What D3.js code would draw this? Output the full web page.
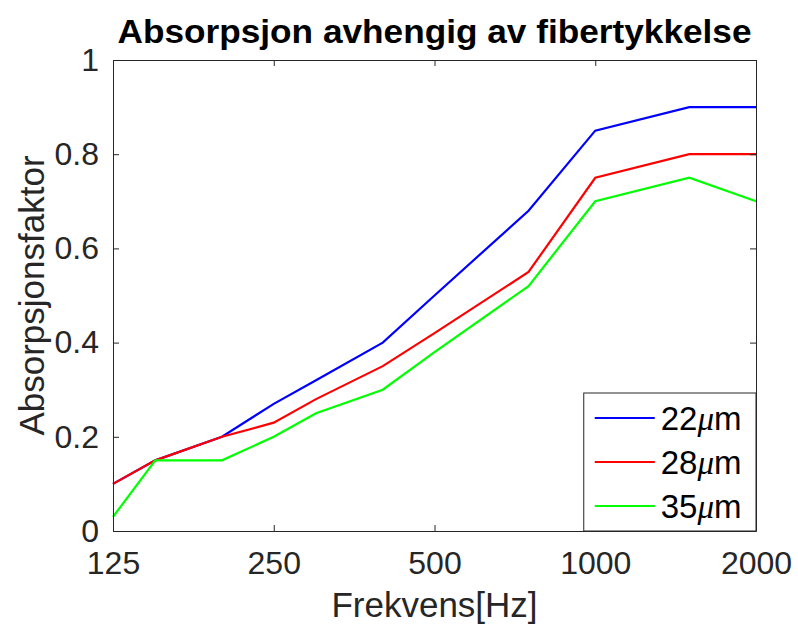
<!DOCTYPE html>
<html>
<head>
<meta charset="utf-8">
<script src="https://cdn.jsdelivr.net/npm/d3@7"></script>
<style>
  body { margin: 0; background: #fff; }
  text { font-family: "Liberation Sans", Arial, sans-serif; fill: #262626; }
</style>
</head>
<body>
<div id="chart"></div>
<script>
// data
const freqs = [125, 150, 200, 250, 300, 400, 500, 750, 1000, 1500, 2000];
const fiber22 = [0.10, 0.15, 0.20, 0.27, 0.32, 0.40, 0.50, 0.68, 0.85, 0.90, 0.90];
const fiber28 = [0.10, 0.15, 0.20, 0.23, 0.28, 0.35, 0.42, 0.55, 0.75, 0.80, 0.80];
const fiber35 = [0.03, 0.15, 0.15, 0.20, 0.25, 0.30, 0.38, 0.52, 0.70, 0.75, 0.70];
const seriesNames = ["22", "28", "35"];
const seriesColors = ["#0000ff", "#ff0000", "#00ff00"];
const xTicks = [125, 250, 500, 1000, 2000];
const yTicks = [0, 0.2, 0.4, 0.6, 0.8, 1];

const W = 798, H = 628;
const margin = { top: 60, right: 42, bottom: 97, left: 113 };
const width = W - margin.left - margin.right;
const height = H - margin.top - margin.bottom;

const svg = d3.select("#chart").append("svg")
  .attr("width", W).attr("height", H);

const g = svg.append("g")
  .attr("transform", "translate(" + margin.left + "," + margin.top + ")");

// Define scales
const x = d3.scaleLog().base(2).domain([125, 2000]).range([0, width]);
const y = d3.scaleLinear().domain([0, 1]).range([height, 0]);

const allSeries = [fiber22, fiber28, fiber35].map((vals, i) => ({
  name: seriesNames[i],
  color: seriesColors[i],
  points: freqs.map((f, j) => ({ f: f, v: vals[j] }))
}));

const line = d3.line()
  .x(d => x(d.f))
  .y(d => y(d.v));

g.selectAll(".series")
  .data(allSeries)
  .enter()
  .append("path")
  .attr("class", "series")
  .attr("d", d => line(d.points))
  .attr("fill", "none")
  .attr("stroke", d => d.color)
  .attr("stroke-width", 2.2);

// axes, matlab style: ticks inward and mirrored
const axisCol = "#262626";
const fmtX = d3.format("d");
const fmtY = v => (v === 0 || v === 1) ? String(v) : d3.format(".1f")(v);

const xBottom = g.append("g")
  .attr("transform", "translate(0," + height + ")")
  .call(d3.axisBottom(x).tickValues(xTicks).tickFormat(fmtX).tickSizeInner(-6).tickSizeOuter(0).tickPadding(20));
const xTop = g.append("g")
  .call(d3.axisTop(x).tickValues(xTicks).tickFormat("").tickSizeInner(-6).tickSizeOuter(0));
const yLeft = g.append("g")
  .call(d3.axisLeft(y).tickValues(yTicks).tickFormat(fmtY).tickSizeInner(-6).tickSizeOuter(0).tickPadding(14));
const yRight = g.append("g")
  .attr("transform", "translate(" + width + ",0)")
  .call(d3.axisRight(y).tickValues(yTicks).tickFormat("").tickSizeInner(-6).tickSizeOuter(0));

[xBottom, xTop, yLeft, yRight].forEach(a => {
  a.select(".domain").attr("stroke", axisCol).attr("stroke-width", 1);
  a.selectAll(".tick line").attr("stroke", axisCol).attr("stroke-width", 1);
  a.selectAll(".tick text")
    .style("font-family", "'Liberation Sans', Arial, sans-serif")
    .style("font-size", "32px")
    .attr("fill", axisCol);
});
xBottom.selectAll(".tick text").attr("dy", "0.71em");

// titles
svg.append("text")
  .attr("x", margin.left + width / 2)
  .attr("y", 43)
  .attr("text-anchor", "middle")
  .attr("textLength", 634)
  .attr("lengthAdjust", "spacingAndGlyphs")
  .style("font-size", "34px")
  .style("font-weight", "bold")
  .style("fill", "#000")
  .text("Absorpsjon avhengig av fibertykkelse");

svg.append("text")
  .attr("x", margin.left + width / 2)
  .attr("y", 617)
  .attr("text-anchor", "middle")
  .style("font-size", "35px")
  .text("Frekvens[Hz]");

svg.append("text")
  .attr("transform", "translate(44," + (margin.top + height / 2) + ") rotate(-90)")
  .attr("text-anchor", "middle")
  .style("font-size", "35px")
  .text("Absorpsjonsfaktor");

// legend box
const leg = g.append("g")
  .attr("transform", "translate(" + (x(1000) - 11.5) + "," + (height - 138) + ")");
leg.append("rect")
  .attr("width", width - x(1000) + 11.5)
  .attr("height", 138)
  .attr("fill", "#fff")
  .attr("stroke", axisCol)
  .attr("stroke-width", 1);

const item = leg.selectAll(".item")
  .data(allSeries)
  .enter()
  .append("g")
  .attr("class", "item")
  .attr("transform", (d, i) => "translate(0," + (25 + i * 44) + ")");
item.append("line")
  .attr("x1", 11).attr("x2", 71)
  .attr("stroke", d => d.color)
  .attr("stroke-width", 2.2);
const lt = item.append("text")
  .attr("x", 77)
  .attr("dy", "0.36em")
  .style("font-size", "33px")
  .style("fill", "#000");
lt.append("tspan").text(d => d.name);
lt.append("tspan")
  .style("font-family", "'Liberation Serif', serif")
  .style("font-style", "italic")
  .text("\u03bc");
lt.append("tspan").text("m");
</script>
</body>
</html>
